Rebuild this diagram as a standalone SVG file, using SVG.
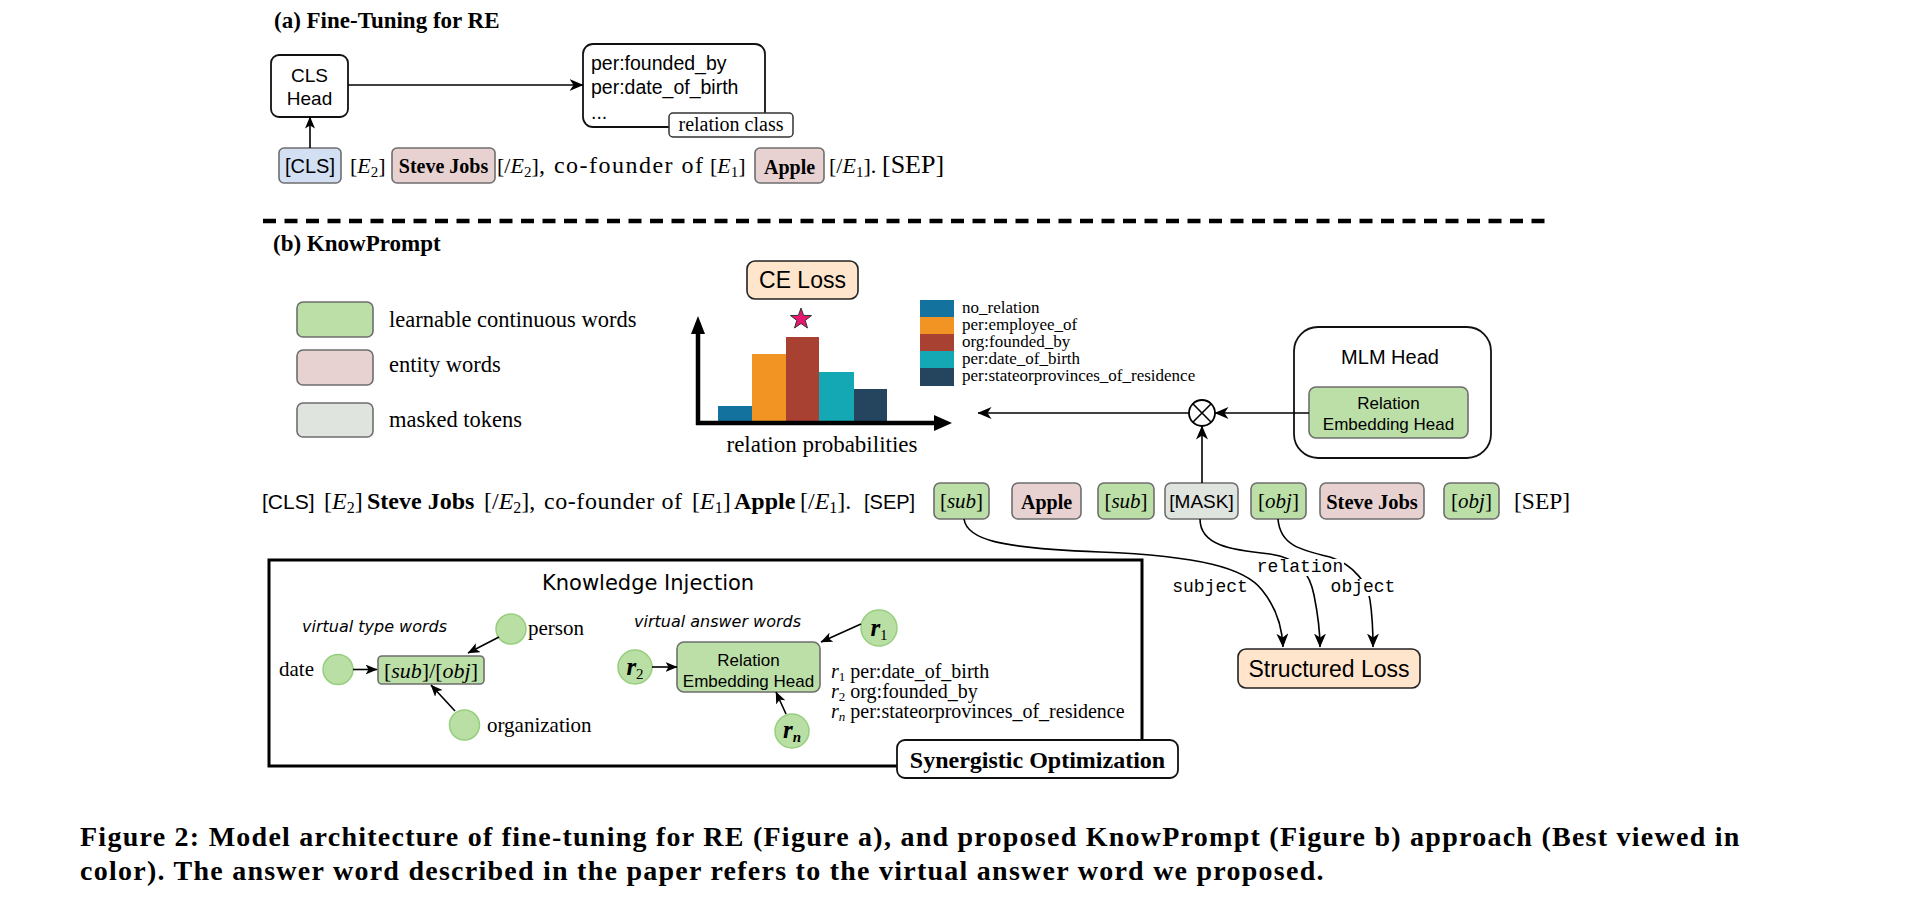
<svg xmlns="http://www.w3.org/2000/svg" width="1912" height="912" viewBox="0 0 1912 912">
<style>
.sans{font-family:"Liberation Sans",Arial,sans-serif}
.serif{font-family:"Liberation Serif","Times New Roman",serif}
.mono{font-family:"Liberation Mono","Courier New",monospace}
.hand{font-family:"DejaVu Sans",sans-serif}
.b{font-weight:bold}
.it{font-style:italic}
.mid{text-anchor:middle}
.green{fill:#BCDFA8;stroke:#6E6E6E;stroke-width:1.6}
.pink{fill:#E8D1D1;stroke:#6E6E6E;stroke-width:1.6}
.grey{fill:#DFE4DE;stroke:#6E6E6E;stroke-width:1.6}
.blue{fill:#D3DFF3;stroke:#6E6E6E;stroke-width:1.6}
.peach{fill:#FFE5CB;stroke:#222;stroke-width:1.6}
.white{fill:#fff;stroke:#111;stroke-width:1.8}
.node{fill:#B9DFA5;stroke:#97CF7E;stroke-width:1.5}
.line{fill:none;stroke:#000;stroke-width:1.6}
</style>
<defs>
<marker id="ah" viewBox="0 0 12 10" refX="11.5" refY="5" markerWidth="12" markerHeight="10" orient="auto" markerUnits="userSpaceOnUse"><path d="M0,0 L12,5 L0,10 L3,5 z" fill="#000"/></marker>
<marker id="ahb" viewBox="0 0 14 12" refX="13.5" refY="6" markerWidth="14" markerHeight="12" orient="auto" markerUnits="userSpaceOnUse"><path d="M0,0 L14,6 L0,12 L4,6 z" fill="#000"/></marker>
</defs>
<rect width="1912" height="912" fill="#fff"/>

<!-- Part (a) -->
<text class="serif b" x="274" y="28" font-size="23">(a) Fine-Tuning for RE</text>

<g id="cls-head">
<rect class="white" x="271" y="55" width="77" height="62" rx="8"/>
<text class="sans mid" x="309.5" y="82" font-size="19">CLS</text>
<text class="sans mid" x="309.5" y="105" font-size="19">Head</text>
</g>

<g id="relation-class-box">
<rect class="white" x="583" y="44" width="182" height="83" rx="10"/>
<text class="sans" x="591" y="70" font-size="19.5">per:founded_by</text>
<text class="sans" x="591" y="94" font-size="19.5">per:date_of_birth</text>
<text class="sans" x="591" y="119" font-size="19.5">...</text>
<rect x="669" y="113" width="124" height="24" rx="4" fill="#fff" stroke="#333" stroke-width="1.5"/>
<text class="serif mid" x="731" y="131" font-size="20">relation class</text>
</g>

<g id="row-a">
<rect class="blue" x="279" y="148" width="62" height="35" rx="5"/>
<text class="sans mid" x="310" y="173" font-size="20">[CLS]</text>
<text class="serif" x="350" y="173" font-size="22">[<tspan class="it">E</tspan><tspan font-size="15" dy="4">2</tspan><tspan dy="-4">]</tspan></text>
<rect class="pink" x="392" y="148" width="103" height="35" rx="5"/>
<text class="serif b mid" x="443.5" y="173" font-size="20">Steve Jobs</text>
<text class="serif" x="497" y="173" font-size="22">[/<tspan class="it">E</tspan><tspan font-size="15" dy="4">2</tspan><tspan dy="-4">]</tspan></text>
<text class="serif" x="539" y="173" font-size="24" textLength="164" lengthAdjust="spacing">, co-founder of</text>
<text class="serif" x="710" y="173" font-size="22">[<tspan class="it">E</tspan><tspan font-size="15" dy="4">1</tspan><tspan dy="-4">]</tspan></text>
<rect class="pink" x="755" y="148" width="69" height="35" rx="5"/>
<text class="serif b mid" x="789.5" y="174" font-size="20">Apple</text>
<text class="serif" x="829" y="173" font-size="22">[/<tspan class="it">E</tspan><tspan font-size="15" dy="4">1</tspan><tspan dy="-4">].</tspan></text>
<text class="serif" x="882" y="173" font-size="26">[SEP]</text>
</g>

<g id="connectors-a">
<line class="line" x1="348" y1="85" x2="583" y2="85" marker-end="url(#ahb)"/>
<line class="line" x1="310" y1="148" x2="310" y2="117" marker-end="url(#ah)"/>
</g>

<line x1="263" y1="221" x2="1548" y2="221" stroke="#000" stroke-width="4.5" stroke-dasharray="13 8.5"/>

<!-- Part (b) -->
<text class="serif b" x="273" y="251" font-size="23">(b) KnowPrompt</text>

<g id="legend">
<rect class="green" x="297" y="302" width="76" height="35" rx="6"/>
<text class="serif" x="389" y="327" font-size="22.5">learnable continuous words</text>
<rect class="pink" x="297" y="350" width="76" height="35" rx="6"/>
<text class="serif" x="389" y="372" font-size="22.5">entity words</text>
<rect class="grey" x="297" y="403" width="76" height="34" rx="6"/>
<text class="serif" x="389" y="427" font-size="22.5">masked tokens</text>
</g>

<g id="ce-loss">
<rect class="peach" x="747" y="261" width="111" height="38" rx="8"/>
<text class="sans mid" x="802.5" y="288" font-size="23">CE Loss</text>
</g>

<g id="chart">
<polygon points="801,308 803.6,315.4 811.5,315.6 805.2,320.4 807.5,328 801,323.5 794.5,328 796.8,320.4 790.5,315.6 798.4,315.4" fill="#E8176E" stroke="#333" stroke-width="1"/>
<rect x="718" y="406" width="34" height="17" fill="#13739E"/>
<rect x="752" y="354" width="34" height="69" fill="#F29423"/>
<rect x="786" y="337" width="33" height="86" fill="#A94133"/>
<rect x="819" y="372" width="35" height="51" fill="#14A8B5"/>
<rect x="854" y="389" width="33" height="34" fill="#25445E"/>
<line x1="698" y1="330" x2="698" y2="425" stroke="#000" stroke-width="4.5"/>
<polygon points="698,316 691,334 705,334" fill="#000"/>
<line x1="696" y1="423" x2="938" y2="423" stroke="#000" stroke-width="4.5"/>
<polygon points="952,423 934,415 934,431" fill="#000"/>
<text class="serif mid" x="822" y="452" font-size="23">relation probabilities</text>
</g>

<g id="chart-legend">
<rect x="920" y="300" width="34" height="17" fill="#13739E"/>
<rect x="920" y="317" width="34" height="17" fill="#F29423"/>
<rect x="920" y="334" width="34" height="17" fill="#A94133"/>
<rect x="920" y="351" width="34" height="17" fill="#14A8B5"/>
<rect x="920" y="368" width="34" height="18" fill="#25445E"/>
<text class="serif" x="962" y="313" font-size="17">no_relation</text>
<text class="serif" x="962" y="330" font-size="17">per:employee_of</text>
<text class="serif" x="962" y="347" font-size="17">org:founded_by</text>
<text class="serif" x="962" y="364" font-size="17">per:date_of_birth</text>
<text class="serif" x="962" y="381" font-size="17">per:stateorprovinces_of_residence</text>
</g>

<g id="mlm-head">
<rect class="white" x="1294" y="327" width="197" height="131" rx="24"/>
<text class="sans mid" x="1390" y="364" font-size="20">MLM Head</text>
<rect class="green" x="1309" y="387" width="159" height="51" rx="7"/>
<text class="sans mid" x="1388.5" y="409" font-size="17">Relation</text>
<text class="sans mid" x="1388.5" y="430" font-size="17">Embedding Head</text>
</g>

<g id="otimes">
<circle cx="1202" cy="413" r="13" fill="#fff" stroke="#000" stroke-width="1.8"/>
<line x1="1192.8" y1="403.8" x2="1211.2" y2="422.2" stroke="#000" stroke-width="1.6"/>
<line x1="1211.2" y1="403.8" x2="1192.8" y2="422.2" stroke="#000" stroke-width="1.6"/>
</g>

<g id="row-b-text">
<text class="sans" x="262" y="509" font-size="21">[CLS]</text>
<text class="serif" x="324" y="509" font-size="24">[<tspan class="it">E</tspan><tspan font-size="16" dy="4">2</tspan><tspan dy="-4">]</tspan></text>
<text class="serif b" x="367" y="509" font-size="24">Steve Jobs</text>
<text class="serif" x="484" y="509" font-size="24">[/<tspan class="it">E</tspan><tspan font-size="16" dy="4">2</tspan><tspan dy="-4">],</tspan></text>
<text class="serif" x="544" y="509" font-size="24" textLength="138" lengthAdjust="spacing">co-founder of</text>
<text class="serif" x="692" y="509" font-size="24">[<tspan class="it">E</tspan><tspan font-size="16" dy="4">1</tspan><tspan dy="-4">]</tspan></text>
<text class="serif b" x="734" y="509" font-size="24">Apple</text>
<text class="serif" x="800" y="509" font-size="24">[/<tspan class="it">E</tspan><tspan font-size="16" dy="4">1</tspan><tspan dy="-4">].</tspan></text>
<text class="sans" x="864" y="509" font-size="20">[SEP]</text>
</g>

<g id="tok-sub1"><rect class="green" x="934" y="483" width="55" height="36" rx="6"/><text class="serif mid" x="961.5" y="508" font-size="21">[<tspan class="it">sub</tspan>]</text></g>
<g id="tok-apple"><rect class="pink" x="1012" y="483" width="69" height="36" rx="6"/><text class="serif b mid" x="1046.5" y="509" font-size="20">Apple</text></g>
<g id="tok-sub2"><rect class="green" x="1098" y="483" width="56" height="36" rx="6"/><text class="serif mid" x="1126" y="508" font-size="21">[<tspan class="it">sub</tspan>]</text></g>
<g id="tok-mask"><rect class="grey" x="1165" y="483" width="73" height="36" rx="6"/><text class="sans mid" x="1201.5" y="508" font-size="19">[MASK]</text></g>
<g id="tok-obj1"><rect class="green" x="1251" y="483" width="55" height="36" rx="6"/><text class="serif mid" x="1278.5" y="508" font-size="21">[<tspan class="it">obj</tspan>]</text></g>
<g id="tok-stevejobs"><rect class="pink" x="1320" y="483" width="104" height="36" rx="6"/><text class="serif b mid" x="1372" y="509" font-size="20.5">Steve Jobs</text></g>
<g id="tok-obj2"><rect class="green" x="1444" y="483" width="55" height="36" rx="6"/><text class="serif mid" x="1471.5" y="508" font-size="21">[<tspan class="it">obj</tspan>]</text></g>
<text class="serif" x="1514" y="509" font-size="23.5">[SEP]</text>

<g id="structured-loss">
<rect class="peach" x="1238" y="649" width="182" height="39" rx="8"/>
<text class="sans mid" x="1329" y="677" font-size="23">Structured Loss</text>
</g>

<g id="knowledge-injection">
<rect x="269" y="560" width="873" height="206" fill="none" stroke="#000" stroke-width="3"/>
<text class="hand" x="542" y="590" font-size="21">Knowledge Injection</text>
<text class="hand it" x="302" y="632" font-size="16">virtual type words</text>
<text class="hand it" x="634" y="627" font-size="16">virtual answer words</text>
</g>

<g id="node-date"><circle class="node" cx="338" cy="669.5" r="15"/><text class="serif" x="279" y="676" font-size="21">date</text></g>
<g id="node-person"><circle class="node" cx="511" cy="629" r="15"/><text class="serif" x="528" y="635" font-size="21">person</text></g>
<g id="node-organization"><circle class="node" cx="464.5" cy="725" r="15"/><text class="serif" x="487" y="732" font-size="21">organization</text></g>
<g id="node-subobj"><rect class="green" x="378" y="656" width="106" height="28" rx="4"/><text class="serif mid" x="431" y="678" font-size="22">[<tspan class="it">sub</tspan>]/[<tspan class="it">obj</tspan>]</text></g>

<g id="node-re-head">
<rect class="green" x="677" y="642" width="143" height="50" rx="7"/>
<text class="sans mid" x="748.5" y="666" font-size="17">Relation</text>
<text class="sans mid" x="748.5" y="687" font-size="17">Embedding Head</text>
</g>
<g id="node-r1"><circle class="node" cx="879" cy="628" r="18"/><text class="serif mid it b" x="879" y="636" font-size="25">r<tspan font-size="15" dy="4" font-style="normal" font-weight="normal">1</tspan></text></g>
<g id="node-r2"><circle class="node" cx="635" cy="667" r="17"/><text class="serif mid it b" x="635" y="675" font-size="25">r<tspan font-size="15" dy="4" font-style="normal" font-weight="normal">2</tspan></text></g>
<g id="node-rn"><circle class="node" cx="792" cy="731" r="17"/><text class="serif mid it b" x="792" y="738" font-size="25">r<tspan font-size="15" dy="4">n</tspan></text></g>

<g id="answer-legend">
<text class="serif" x="831" y="678" font-size="20"><tspan class="it">r</tspan><tspan font-size="13" dy="3">1</tspan><tspan dy="-3"> per:date_of_birth</tspan></text>
<text class="serif" x="831" y="698" font-size="20"><tspan class="it">r</tspan><tspan font-size="13" dy="3">2</tspan><tspan dy="-3"> org:founded_by</tspan></text>
<text class="serif" x="831" y="718" font-size="20"><tspan class="it">r</tspan><tspan font-size="13" dy="3" class="it">n</tspan><tspan dy="-3"> per:stateorprovinces_of_residence</tspan></text>
</g>

<g id="synergistic-optimization">
<rect class="white" x="897" y="740" width="281" height="38" rx="8"/>
<text class="serif b mid" x="1037.5" y="768" font-size="24">Synergistic Optimization</text>
</g>

<g id="connectors">
<line class="line" x1="1309" y1="413" x2="1215" y2="413" marker-end="url(#ahb)"/>
<line class="line" x1="1189" y1="413" x2="978" y2="413" marker-end="url(#ahb)"/>
<line class="line" x1="1202" y1="483" x2="1202" y2="426" marker-end="url(#ahb)"/>
<path class="line" d="M964,519 C967,540 1000,548 1100,552 C1200,556 1245,568 1262,590 C1276,607 1282,625 1283,647" marker-end="url(#ahb)"/>
<path class="line" d="M1200,519 C1200,545 1230,550 1270,554 C1300,558 1310,575 1314,595 C1318,615 1320,630 1320,647" marker-end="url(#ahb)"/>
<path class="line" d="M1278,519 C1280,545 1300,550 1330,557 C1355,565 1368,585 1370,600 C1373,620 1373,635 1373,647" marker-end="url(#ahb)"/>
<rect x="1256" y="559" width="88" height="17" fill="#fff"/>
<text class="mono" x="1300" y="572" font-size="18" text-anchor="middle">relation</text>
<rect x="1172" y="579" width="76" height="17" fill="#fff"/>
<text class="mono" x="1210" y="592" font-size="18" text-anchor="middle">subject</text>
<rect x="1330" y="579" width="66" height="17" fill="#fff"/>
<text class="mono" x="1363" y="592" font-size="18" text-anchor="middle">object</text>
<line class="line" x1="353" y1="669.5" x2="377" y2="669.5" marker-end="url(#ah)"/>
<line class="line" x1="499" y1="637" x2="468" y2="653" marker-end="url(#ah)"/>
<line class="line" x1="455" y1="711" x2="431" y2="685" marker-end="url(#ah)"/>
<line class="line" x1="652" y1="667" x2="677" y2="667" marker-end="url(#ah)"/>
<line class="line" x1="861" y1="624" x2="821" y2="642" marker-end="url(#ah)"/>
<line class="line" x1="786" y1="714" x2="776" y2="692" marker-end="url(#ah)"/>
</g>

<g id="caption">
<text class="serif b" x="80" y="846" font-size="28" letter-spacing="1.25">Figure 2: Model architecture of fine-tuning for RE (Figure a), and proposed KnowPrompt (Figure b) approach (Best viewed in</text>
<text class="serif b" x="80" y="880" font-size="28" letter-spacing="1.25">color). The answer word described in the paper refers to the virtual answer word we proposed.</text>
</g>
</svg>
